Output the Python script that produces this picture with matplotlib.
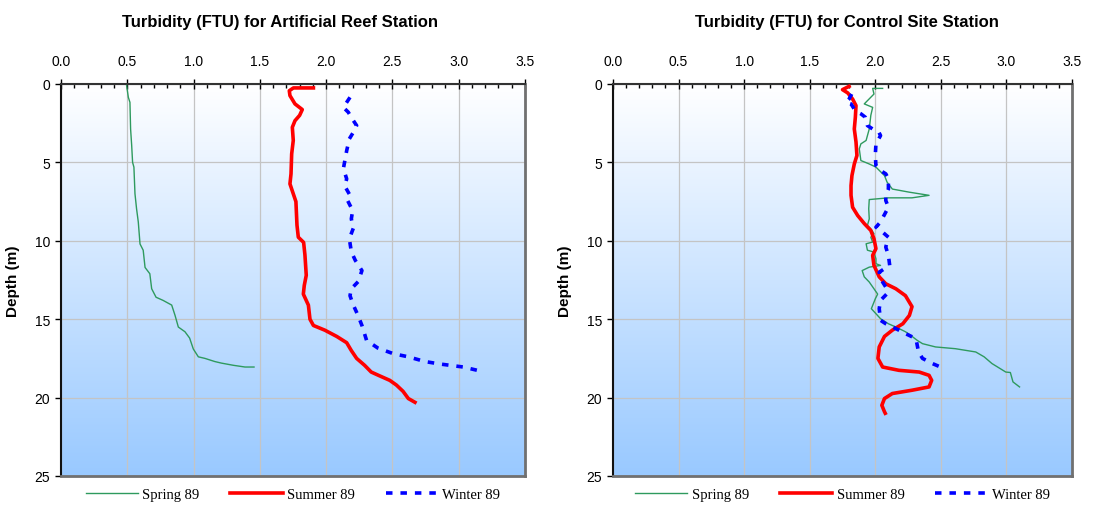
import numpy as np
import matplotlib
matplotlib.use("Agg")
from matplotlib import pyplot as plt
from matplotlib.colors import LinearSegmentedColormap
from matplotlib.ticker import MultipleLocator, FormatStrFormatter

# Artificial reef station
reef_spring_ftu = [0.495, 0.508, 0.52, 0.525, 0.533, 0.54, 0.55, 0.558, 0.57, 0.583, 0.596, 0.62,
                   0.634, 0.67, 0.684, 0.717, 0.77, 0.835, 0.86, 0.885, 0.935, 0.97, 0.998, 1.036,
                   1.086, 1.16, 1.21, 1.3, 1.388, 1.456]
reef_spring_depth = [0.1, 0.85, 1.17, 2.87, 3.9, 5.0, 5.3, 7.0, 7.96, 8.8, 10.2, 10.6, 11.7, 12.1,
                     13.06, 13.6, 13.8, 14.1, 14.75, 15.5, 15.8, 16.2, 16.9, 17.4, 17.5, 17.7,
                     17.8, 17.94, 18.05, 18.05]
reef_summer_ftu = [1.904, 1.753, 1.722, 1.727, 1.765, 1.82, 1.8, 1.765, 1.745, 1.752, 1.74, 1.735,
                   1.727, 1.752, 1.772, 1.78, 1.79, 1.83, 1.84, 1.85, 1.835, 1.828, 1.866, 1.878,
                   1.904, 1.99, 2.08, 2.155, 2.19, 2.23, 2.29, 2.34, 2.4, 2.48, 2.53, 2.58, 2.62, 2.67]
reef_summer_depth = [0.25, 0.25, 0.43, 0.74, 1.27, 1.63, 2.0, 2.34, 2.76, 3.6, 4.46, 5.73, 6.37,
                     7.0, 7.5, 9.0, 9.77, 10.1, 10.9, 12.2, 12.85, 13.4, 14.1, 15.0, 15.4, 15.7,
                     16.1, 16.5, 17.0, 17.5, 17.94, 18.37, 18.6, 18.9, 19.2, 19.6, 20.06, 20.3]
reef_winter_ftu = [2.18, 2.13, 2.167, 2.205, 2.23, 2.205, 2.175, 2.155, 2.13, 2.155, 2.14, 2.18,
                   2.16, 2.2, 2.19, 2.205, 2.175, 2.19, 2.22, 2.27, 2.242, 2.19, 2.18, 2.205, 2.24,
                   2.27, 2.305, 2.39, 2.507, 2.62, 2.745, 2.86, 3.035, 3.15]
reef_winter_depth = [0.85, 1.49, 1.8, 2.33, 2.65, 3.08, 3.5, 4.25, 5.4, 6.05, 6.5, 7.1, 7.4, 8.07,
                     8.6, 9.2, 9.87, 10.7, 11.25, 11.9, 12.6, 13.06, 13.5, 14.1, 14.75, 15.4,
                     16.35, 16.84, 17.2, 17.4, 17.7, 17.86, 18.05, 18.28]

# Control site station
ctrl_spring_ftu = [2.056, 1.98, 1.99, 1.916, 1.98, 1.966, 1.954, 1.93, 1.89, 1.878, 1.89, 1.954,
                   2.005, 2.07, 2.09, 2.13, 2.26, 2.41, 2.28, 2.1, 1.954, 1.95, 1.954, 1.94, 1.966,
                   1.99, 1.966, 1.98, 1.93, 1.94, 1.99, 2.005, 2.005, 2.04, 1.954, 1.9, 1.916,
                   1.954, 1.99, 2.018, 2.0, 1.97, 2.005, 2.04, 2.1, 2.157, 2.23, 2.27, 2.32, 2.36,
                   2.46, 2.61, 2.766, 2.83, 2.89, 2.995, 3.03, 3.05, 3.1]
ctrl_spring_depth = [0.28, 0.28, 0.64, 1.27, 1.49, 2.0, 2.87, 3.6, 3.82, 4.14, 4.88, 5.1, 5.3, 5.84,
                     6.26, 6.7, 6.9, 7.1, 7.26, 7.26, 7.37, 7.96, 8.6, 9.02, 9.24, 9.55, 9.77,
                     10.08, 10.19, 10.6, 10.72, 11.15, 11.46, 11.57, 11.68, 11.9, 12.3, 12.63,
                     13.06, 13.4, 13.7, 14.33, 14.65, 14.97, 15.29, 15.5, 15.8, 16.03, 16.35, 16.56,
                     16.77, 16.88, 17.09, 17.4, 17.83, 18.37, 18.4, 19.0, 19.32]
ctrl_summer_ftu = [1.8, 1.75, 1.79, 1.827, 1.853, 1.848, 1.84, 1.853, 1.86, 1.84, 1.822, 1.815,
                   1.815, 1.827, 1.866, 1.916, 1.966, 1.99, 2.005, 1.98, 1.99, 2.03, 2.08, 2.157,
                   2.23, 2.28, 2.26, 2.21, 2.13, 2.07, 2.03, 2.02, 2.056, 2.18, 2.335, 2.41, 2.43,
                   2.41, 2.28, 2.13, 2.07, 2.05, 2.07, 2.076]
ctrl_summer_depth = [0.15, 0.36, 0.57, 0.96, 1.38, 2.12, 2.87, 3.7, 4.56, 5.1, 5.84, 6.48, 7.1,
                     7.86, 8.39, 8.9, 9.34, 9.87, 10.5, 10.93, 11.57, 12.3, 12.74, 13.06, 13.5,
                     14.2, 14.76, 15.29, 15.7, 16.1, 16.77, 17.5, 18.05, 18.26, 18.37, 18.58, 18.9,
                     19.32, 19.53, 19.74, 20.06, 20.49, 20.9, 21.0]
ctrl_winter_ftu = [1.82, 1.8, 1.777, 1.815, 1.84, 1.866, 1.89, 1.924, 1.94, 1.98, 2.025, 2.04,
                   2.005, 2.0, 2.005, 2.04, 2.08, 2.1, 2.1, 2.08, 2.08, 2.1, 2.066, 2.04, 2.005,
                   2.056, 2.1, 2.08, 2.1, 2.11, 2.07, 2.03, 2.04, 2.08, 2.09, 2.04, 2.03, 2.04,
                   2.08, 2.157, 2.23, 2.31, 2.32, 2.33, 2.36, 2.436, 2.525]
ctrl_winter_depth = [0.64, 0.96, 1.17, 1.27, 1.6, 1.8, 1.9, 2.12, 2.65, 2.87, 3.04, 3.29, 3.82,
                     4.56, 5.2, 5.52, 5.73, 6.05, 6.7, 7.1, 7.43, 7.86, 8.39, 8.8, 9.13, 9.45,
                     9.77, 10.4, 10.93, 11.57, 11.78, 12.0, 12.42, 12.95, 13.37, 13.8, 14.33,
                     15.07, 15.29, 15.6, 15.92, 16.24, 16.67, 17.09, 17.5, 17.83, 18.15]

titles = ["Turbidity (FTU) for Artificial Reef Station", "Turbidity (FTU) for Control Site Station"]
series_names = ["Spring 89", "Summer 89", "Winter 89"]

plt.rcParams['font.family'] = ['Liberation Sans', 'DejaVu Sans']

fig = plt.figure(figsize=(10.93, 5.06), dpi=100)
ax_left = fig.add_axes([61 / 1093, 29 / 506, 464 / 1093, 392 / 506])
ax_right = fig.add_axes([613 / 1093, 29 / 506, 459 / 1093, 392 / 506])

bg = LinearSegmentedColormap.from_list("bg", ["#ffffff", "#99c9ff"])
grad = np.linspace(0, 1, 256).reshape(-1, 1)

panels = [
    (ax_left, titles[0], 0.472, (reef_spring_ftu, reef_spring_depth),
     (reef_summer_ftu, reef_summer_depth), (reef_winter_ftu, reef_winter_depth)),
    (ax_right, titles[1], 0.51, (ctrl_spring_ftu, ctrl_spring_depth),
     (ctrl_summer_ftu, ctrl_summer_depth), (ctrl_winter_ftu, ctrl_winter_depth)),
]

for ax, title, title_x, spring, summer, winter in panels:
    # white at the top fading to light blue at the bottom
    ax.imshow(grad, cmap=bg, aspect='auto', extent=[0, 1, 0, 1], transform=ax.transAxes, zorder=0)
    ax.plot(spring[0], spring[1], color='#2e9a5e', lw=1.0, label=series_names[0], zorder=3)
    ax.plot(summer[0], summer[1], color='#ff0000', lw=2.6, label=series_names[1], zorder=3)
    ax.plot(winter[0], winter[1], color='#0000ff', lw=2.6, linestyle=(0, (1.8, 2.2)),
            label=series_names[2], zorder=4)

    ax.set_xlim(0, 3.5)
    ax.set_ylim(25, 0)
    ax.xaxis.tick_top()
    ax.xaxis.set_major_locator(MultipleLocator(0.5))
    ax.xaxis.set_minor_locator(MultipleLocator(0.1))
    ax.xaxis.set_major_formatter(FormatStrFormatter('%.1f'))
    ax.yaxis.set_major_locator(MultipleLocator(5))
    ax.tick_params(axis='x', which='major', direction='inout', length=7, width=1, labelsize=10, pad=8)
    ax.tick_params(axis='x', which='minor', direction='in', length=3, width=1)
    ax.tick_params(axis='y', which='major', direction='out', length=4, width=1, labelsize=10, pad=4)
    ax.grid(True, which='major', color='#c4c4c4', lw=0.9, zorder=1)
    ax.set_axisbelow(True)

    ax.spines['left'].set_color('#111111')
    ax.spines['left'].set_linewidth(1.5)
    ax.spines['top'].set_color('#333333')
    ax.spines['top'].set_linewidth(1.5)
    ax.spines['bottom'].set_color('#707070')
    ax.spines['bottom'].set_linewidth(2)
    ax.spines['right'].set_color('#707070')
    ax.spines['right'].set_linewidth(2)

    ax.set_title(title, fontsize=12, fontweight='bold', pad=42, x=title_x)
    ax.set_ylabel("Depth (m)", fontsize=11, fontweight='bold', labelpad=10)

    ax.legend(loc='center', bbox_to_anchor=(0.5, -0.048), ncol=3, frameon=False,
              prop={'family': 'Liberation Serif', 'size': 10.5}, handlelength=3.6,
              handletextpad=0.3, columnspacing=2.1, borderaxespad=0)

fig.savefig("out.png", dpi=100)
